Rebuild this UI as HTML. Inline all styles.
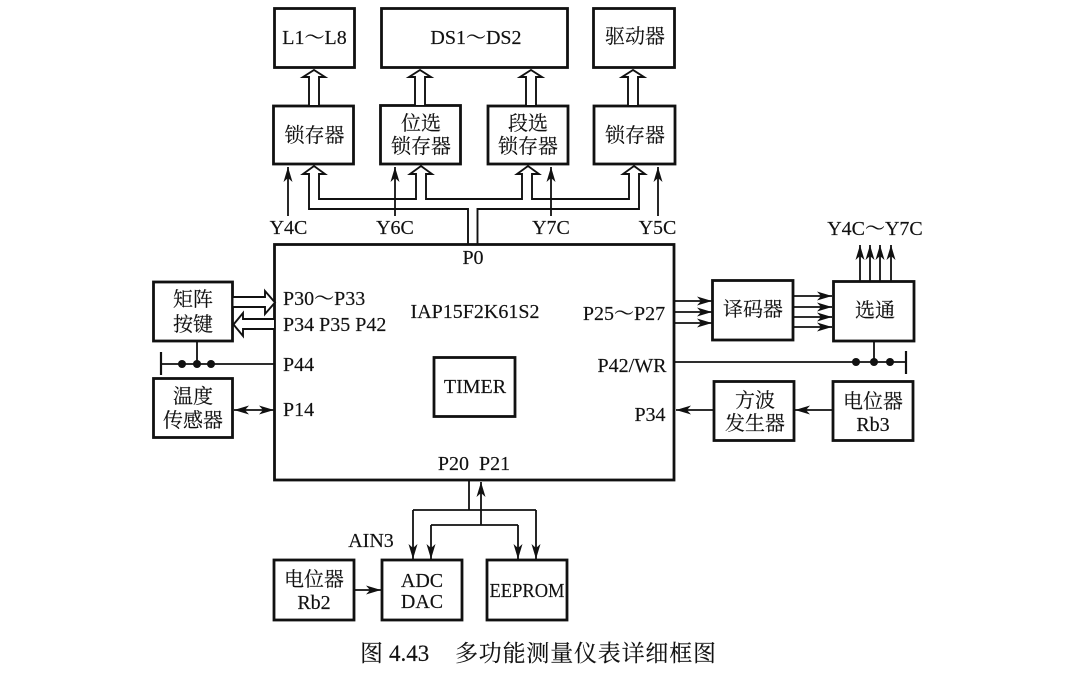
<!DOCTYPE html>
<html><head><meta charset="utf-8">
<style>
html,body{margin:0;padding:0;background:#fff;width:1070px;height:678px;overflow:hidden}
svg{display:block}
text{font-family:"Liberation Serif","Noto Serif CJK SC",serif;font-size:20px;fill:#111;stroke:#111;stroke-width:.15;text-anchor:middle}
.l{text-anchor:start}
.b{fill:#fff;stroke:#111;stroke-width:2.8}
.t{fill:none;stroke:#111;stroke-width:1.8}
.h{fill:#fff;stroke:#111;stroke-width:1.9;stroke-linejoin:miter}
</style></head><body>
<svg width="1070" height="678" viewBox="0 0 1070 678" xmlns="http://www.w3.org/2000/svg">
<defs>
<marker id="a" markerWidth="16" markerHeight="12" refX="15" refY="6" orient="auto-start-reverse" markerUnits="userSpaceOnUse"><path d="M0 1.5L15 6L0 10.5L4 6Z" fill="#111"/></marker>
</defs>

<!-- boxes -->
<rect class="b" x="274.5" y="8.5" width="80" height="59"/>
<rect class="b" x="381.5" y="8.5" width="186" height="59"/>
<rect class="b" x="593.5" y="8.5" width="81" height="59"/>
<rect class="b" x="273.5" y="106" width="80" height="58"/>
<rect class="b" x="380.5" y="105.5" width="80" height="58.5"/>
<rect class="b" x="488" y="106" width="80" height="58"/>
<rect class="b" x="594" y="106" width="81" height="58"/>
<rect class="b" x="274.5" y="244.5" width="399.5" height="235.5"/>
<rect class="b" x="434" y="357.5" width="81" height="59"/>
<rect class="b" x="153.5" y="282" width="79" height="59"/>
<rect class="b" x="153.5" y="378.5" width="79" height="59"/>
<rect class="b" x="712.5" y="280.5" width="80.5" height="59.5"/>
<rect class="b" x="833.5" y="281.5" width="80.5" height="59.5"/>
<rect class="b" x="714" y="381.5" width="80" height="59"/>
<rect class="b" x="833" y="381.5" width="80" height="59"/>
<rect class="b" x="274" y="560" width="80" height="60"/>
<rect class="b" x="382" y="560" width="80" height="60"/>
<rect class="b" x="487" y="560" width="80" height="60"/>

<!-- hollow up arrows -->
<path class="h" d="M309 105V77H303L314 70L325 77H319V105"/>
<path class="h" d="M415 105V77H409L420 70L431 77H425V105"/>
<path class="h" d="M526 105V77H520L531 70L542 77H536V105"/>
<path class="h" d="M628 105V77H622L633 70L644 77H638V105"/>

<!-- hollow bus -->
<path class="h" style="fill:none" d="M468 244V209H309V174H303L314 166L325 174H319V199H416V174H410L421 166L432 174H426V199H522V174H517L528 166L539 174H532V199H629V174H623L634 166L645 174H639V209H477.5V244"/>

<!-- Y control arrows -->
<path class="t" marker-end="url(#a)" d="M288 216V167"/>
<path class="t" marker-end="url(#a)" d="M395 216V167"/>
<path class="t" marker-end="url(#a)" d="M551 216V167"/>
<path class="t" marker-end="url(#a)" d="M658 216V167"/>

<!-- left hollow -->
<path class="h" d="M233.5 297H265V291L275 302.5L265 314V307H233.5"/>
<path class="h" d="M274 319H243V313L233.5 324.5L243 336V329H274"/>

<!-- P44 -->
<path class="t" d="M275 364H161M197 341V364"/>
<path class="t" style="stroke-width:2.2" d="M161 352V375"/>
<circle cx="182" cy="364" r="4" fill="#111"/><circle cx="197" cy="364" r="4" fill="#111"/><circle cx="211" cy="364" r="4" fill="#111"/>
<!-- P14 -->
<path class="t" marker-start="url(#a)" marker-end="url(#a)" d="M234 410H274"/>

<!-- right -->
<path class="t" marker-end="url(#a)" d="M675 301H712"/>
<path class="t" marker-end="url(#a)" d="M675 312H712"/>
<path class="t" marker-end="url(#a)" d="M675 323H712"/>
<path class="t" marker-end="url(#a)" d="M793 296H832"/>
<path class="t" marker-end="url(#a)" d="M793 307H832"/>
<path class="t" marker-end="url(#a)" d="M793 317H832"/>
<path class="t" marker-end="url(#a)" d="M793 327H832"/>
<path class="t" marker-end="url(#a)" d="M860 281V245"/>
<path class="t" marker-end="url(#a)" d="M870 281V245"/>
<path class="t" marker-end="url(#a)" d="M880 281V245"/>
<path class="t" marker-end="url(#a)" d="M891 281V245"/>
<path class="t" d="M675 362H906M874 341V362"/>
<path class="t" style="stroke-width:2.2" d="M906 351V374"/>
<circle cx="856" cy="362" r="4" fill="#111"/><circle cx="874" cy="362" r="4" fill="#111"/><circle cx="890" cy="362" r="4" fill="#111"/>
<path class="t" marker-end="url(#a)" d="M833 410H795"/>
<path class="t" marker-end="url(#a)" d="M714 410H676"/>

<!-- bottom -->
<path class="t" d="M469 481V510"/>
<path class="t" d="M413 510H536"/>
<path class="t" marker-end="url(#a)" d="M413 510V559"/>
<path class="t" marker-end="url(#a)" d="M536 510V559"/>
<path class="t" marker-end="url(#a)" d="M481 525V482"/>
<path class="t" d="M431 525H518"/>
<path class="t" marker-end="url(#a)" d="M431 525V559"/>
<path class="t" marker-end="url(#a)" d="M518 525V559"/>
<path class="t" marker-end="url(#a)" d="M354 590H381"/>

<!-- text -->
<text x="314.5" y="44">L1～L8</text>
<text x="476" y="44">DS1～DS2</text>
<text x="635" y="43">驱动器</text>
<text x="314.5" y="142">锁存器</text>
<text x="421" y="130">位选</text>
<text x="421" y="153">锁存器</text>
<text x="528" y="130">段选</text>
<text x="528" y="153">锁存器</text>
<text x="635" y="142">锁存器</text>
<text x="288.5" y="234">Y4C</text>
<text x="395" y="234">Y6C</text>
<text x="551" y="234">Y7C</text>
<text x="657.5" y="234">Y5C</text>
<text x="875" y="235">Y4C～Y7C</text>
<text x="473" y="264">P0</text>
<text x="193" y="306">矩阵</text>
<text x="193" y="331">按键</text>
<text x="193" y="403">温度</text>
<text x="193" y="427">传感器</text>
<text class="l" x="283" y="305">P30～P33</text>
<text class="l" x="283" y="331">P34 P35 P42</text>
<text class="l" x="283" y="371">P44</text>
<text class="l" x="283" y="416">P14</text>
<text x="475" y="318">IAP15F2K61S2</text>
<text x="475" y="393">TIMER</text>
<text x="624" y="320">P25～P27</text>
<text x="632" y="372">P42/WR</text>
<text x="650" y="421">P34</text>
<text x="753" y="316">译码器</text>
<text x="875" y="317">选通</text>
<text x="755" y="407">方波</text>
<text x="755" y="430">发生器</text>
<text x="873" y="408">电位器</text>
<text x="873" y="431">Rb3</text>
<text x="474" y="470">P20&#160;&#160;P21</text>
<text x="371" y="547">AIN3</text>
<text x="314" y="586">电位器</text>
<text x="314" y="609">Rb2</text>
<text x="422" y="587">ADC</text>
<text x="422" y="608">DAC</text>
<text x="527" y="597" textLength="75" lengthAdjust="spacingAndGlyphs">EEPROM</text>
<text class="l" x="360" y="661" style="font-size:23px">图</text>
<text class="l" x="389" y="661" style="font-size:23px">4.43</text>
<text class="l" x="455" y="661" style="font-size:23px;letter-spacing:.8px">多功能测量仪表详细框图</text>
</svg>
</body></html>
